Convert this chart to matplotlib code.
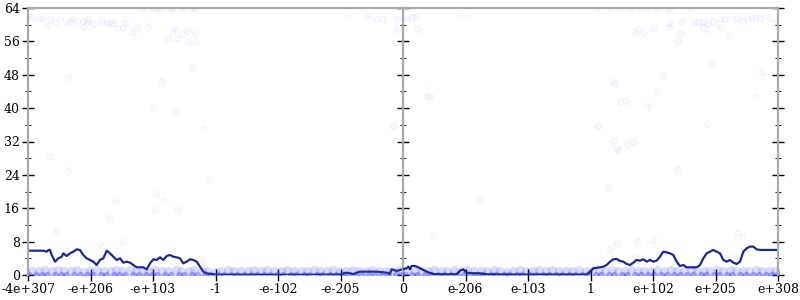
import matplotlib
matplotlib.use("Agg")
import matplotlib.pyplot as plt
from matplotlib.ticker import MultipleLocator

# ---------------- data (x in tick-slot units 0..12, y = bits of error) ----------------
left_labels = ['-4e+307', '-e+206', '-e+103', '-1', '-e-102', '-e-205', '0']
right_labels = ['e-206', 'e-103', '1', 'e+102', 'e+205', 'e+308']

line_x = [0.0, 0.245, 0.299, 0.325, 0.352, 0.379, 0.432, 0.485, 0.539, 0.565, 0.619, 0.672,
          0.725, 0.779, 0.832, 0.885, 0.939, 0.992, 1.045, 1.099, 1.152, 1.205, 1.259, 1.312,
          1.365, 1.419, 1.472, 1.525, 1.579, 1.632, 1.685, 1.739, 1.792, 1.845, 1.899, 1.952,
          2.005, 2.059, 2.112, 2.165, 2.219, 2.272, 2.325, 2.379, 2.432, 2.485, 2.539, 2.592,
          2.645, 2.699, 2.752, 2.805, 2.859, 2.965, 3.019, 3.5, 4.0, 4.5, 4.99, 5.1, 5.205,
          5.312, 5.579, 5.739, 5.792, 5.819, 5.899, 5.952, 6.059, 6.085, 6.112, 6.139, 6.192,
          6.245, 6.325, 6.405, 6.485, 6.592, 6.859, 6.912, 6.965, 7.019, 7.125, 7.232, 7.339,
          7.8, 8.4, 8.939, 8.992, 9.045, 9.152, 9.205, 9.259, 9.312, 9.365, 9.419, 9.472,
          9.525, 9.579, 9.632, 9.685, 9.739, 9.792, 9.845, 9.899, 9.952, 10.005, 10.059,
          10.112, 10.165, 10.219, 10.272, 10.325, 10.379, 10.432, 10.485, 10.539, 10.699,
          10.752, 10.805, 10.859, 10.912, 10.965, 11.019, 11.072, 11.125, 11.179, 11.232,
          11.285, 11.339, 11.392, 11.445, 11.499, 11.552, 11.605, 11.659, 11.712, 12.0]
line_y = [5.83, 5.83, 5.59, 5.99, 5.99, 4.79, 3.20, 4.0, 4.39, 5.19, 4.55, 5.19,
          5.59, 6.15, 5.99, 4.79, 4.0, 3.60, 3.20, 2.40, 3.60, 4.0, 5.83, 5.19,
          4.39, 3.60, 4.0, 2.96, 3.20, 2.96, 2.40, 1.84, 1.84, 1.84, 1.36, 2.80,
          3.76, 3.60, 4.23, 3.60, 4.55, 4.79, 4.39, 4.23, 4.0, 2.80, 3.20, 3.76,
          3.60, 3.20, 2.0, 0.80, 0.40, 0.16, 0.08, 0.06, 0.06, 0.06, 0.1, 0.56, 0.24,
          0.8, 0.8, 0.56, 0.24, 1.36, 0.96, 1.2, 1.6, 2.0, 1.36, 2.16, 2.16,
          1.84, 1.2, 0.64, 0.24, 0.16, 0.16, 1.04, 1.36, 0.56, 0.4, 0.4, 0.16,
          0.1, 0.1, 0.1, 0.8, 1.6, 1.84, 2.0, 2.4, 3.2, 3.76, 3.84, 3.36,
          3.2, 2.64, 2.4, 2.96, 3.6, 3.44, 3.76, 3.2, 3.6, 3.2, 3.44,
          4.4, 5.6, 5.43, 5.19, 4.79, 3.2, 2.16, 2.4, 1.84, 1.84,
          2.4, 4.0, 5.19, 5.59, 6.0, 5.59, 5.19, 3.6, 3.2, 3.6,
          2.96, 2.64, 3.2, 5.59, 6.4, 6.8, 6.8, 6.15, 6.0, 6.0]

band0_x = [0.02, 0.13, 0.22, 0.31, 0.43, 0.52, 0.61, 0.74, 0.83, 0.95, 1.04, 1.16, 1.25,
           1.37, 1.46, 1.55, 1.68, 1.77, 1.89, 1.98, 2.07, 2.19, 2.28, 2.41, 2.50, 2.62,
           2.71, 2.83, 2.92, 3.04, 3.13, 3.25, 3.34, 3.46, 3.57, 3.66, 3.78, 3.87, 3.99,
           4.08, 4.20, 4.29, 4.41, 4.50, 4.62, 4.71, 4.83, 4.92, 5.04, 5.13, 5.25, 5.34,
           5.46, 5.55, 5.67, 5.76, 5.88, 5.97, 6.03, 6.14, 6.23, 6.35, 6.44, 6.56, 6.65,
           6.77, 6.86, 6.98, 7.07, 7.19, 7.28, 7.40, 7.49, 7.61, 7.70, 7.82, 7.91, 8.03,
           8.12, 8.24, 8.33, 8.45, 8.54, 8.66, 8.75, 8.87, 8.96, 9.08, 9.17, 9.29, 9.38,
           9.50, 9.59, 9.71, 9.80, 9.92, 10.01, 10.13, 10.22, 10.34, 10.43, 10.55, 10.64,
           10.76, 10.85, 10.97, 11.06, 11.18, 11.27, 11.39, 11.48, 11.60, 11.69, 11.81,
           11.90, 11.98]

band1_x = [0.07, 0.18, 0.27, 0.38, 0.48, 0.57, 0.69, 0.79, 0.90, 0.99,
           1.11, 1.21, 1.32, 1.41, 1.51, 1.63, 1.73, 1.84, 1.93, 2.03,
           2.14, 2.24, 2.36, 2.45, 2.57, 2.66, 2.78, 2.87, 2.99, 3.09,
           3.20, 3.30, 3.41, 3.52, 3.62, 3.73, 3.82, 3.94, 4.04, 4.15,
           4.25, 4.36, 4.46, 4.57, 4.67, 4.78, 4.88, 4.99, 5.09, 5.20,
           5.30, 5.41, 5.51, 5.62, 5.72, 5.83, 5.93, 6.08, 6.19, 6.29,
           6.40, 6.50, 6.61, 6.71, 6.82, 6.92, 7.03, 7.13, 7.24, 7.34,
           7.45, 7.55, 7.66, 7.76, 7.87, 7.97, 8.08, 8.18, 8.29, 8.39,
           8.50, 8.60, 8.71, 8.81, 8.92, 9.02, 9.13, 9.23, 9.34, 9.44,
           9.55, 9.65, 9.76, 9.86, 9.97, 10.07, 10.18, 10.28, 10.39, 10.49,
           10.60, 10.70, 10.81, 10.91, 11.02, 11.12, 11.23, 11.33, 11.44, 11.54,
           11.65, 11.75, 11.86, 11.95]
band1_y = [1.0, 0.9, 1.1, 1.0, 1.2, 0.9, 1.0, 1.1, 0.8, 1.0,
           1.1, 1.0, 0.9, 1.2, 1.0, 1.1, 0.9, 1.0, 1.0, 1.1,
           0.9, 1.0, 1.2, 1.0, 0.9, 1.1, 1.0, 1.0, 0.8, 1.0,
           1.1, 1.0, 0.9, 1.0, 1.1, 1.0, 1.2, 0.9, 1.0, 1.1,
           1.0, 0.9, 1.0, 1.1, 1.0, 0.9, 1.2, 1.0, 1.0, 1.1,
           0.9, 1.0, 1.1, 1.0, 0.9, 1.0, 1.2, 1.1, 1.0, 0.9,
           1.0, 1.1, 1.0, 0.9, 1.2, 1.0, 1.1, 1.0, 0.9, 1.0,
           1.1, 1.0, 0.8, 1.0, 1.1, 0.9, 1.0, 1.2, 1.0, 1.1,
           0.9, 1.0, 1.0, 1.1, 0.9, 1.0, 1.2, 1.0, 1.1, 0.9,
           1.0, 1.1, 1.0, 0.9, 1.0, 1.2, 1.0, 1.1, 0.9, 1.0,
           1.1, 1.0, 0.9, 1.0, 1.2, 1.0, 1.1, 0.9, 1.0, 1.0,
           1.1, 0.9, 1.0, 1.0]

outlier_x = [0.059, 0.192, 0.245, 0.299, 0.352, 0.432, 0.512, 0.619, 0.672, 0.725, 0.779,
             0.885, 0.939, 0.965, 0.875, 1.045, 1.179, 1.259, 1.312, 1.365, 1.419, 1.525,
             1.552, 1.685, 1.765, 1.925, 1.819, 2.005, 2.059, 2.112, 2.272, 2.325, 2.432,
             2.485, 2.619, 2.672, 2.245, 2.299, 2.352, 2.379, 2.459, 2.539, 2.565, 2.672,
             2.672, 2.619, 0.645, 2.139, 2.005, 2.352, 2.795, 5.125, 5.419, 5.579, 5.685,
             5.899, 5.925, 5.845, 0.352, 0.645, 0.459, 1.392, 1.312, 1.152, 1.525, 2.048,
             2.176, 2.032, 2.379, 2.896, 2.795,
             6.059, 6.139, 6.208, 6.245, 6.912, 7.019, 6.379, 6.432, 9.099, 9.312, 9.472,
             9.632, 9.792, 9.899, 10.059, 10.219, 10.272, 10.592, 9.712, 9.765, 9.845,
             10.005, 10.261, 10.261, 10.432, 10.395, 10.459, 10.672, 10.725, 10.805,
             10.885, 10.965, 11.072, 11.152, 11.339, 11.445, 11.499, 11.579, 11.632,
             11.712, 11.872, 11.979, 10.805, 10.859, 11.083, 11.221, 10.939, 11.749,
             10.165, 9.365, 9.392, 10.059, 9.472, 9.563, 9.909, 11.648, 9.125, 10.859,
             9.355, 9.429, 9.579, 9.685, 9.445, 10.379, 9.285, 7.232, 6.485, 9.739,
             10.005, 9.419, 9.312, 11.365, 11.419, 9.712, 11.205]
outlier_y = [61.8, 61.5, 61.5, 59.9, 61.3, 60.7, 61.3, 60.5, 61.0, 61.3, 61.0,
             61.0, 60.7, 61.3, 59.4, 60.2, 61.0, 60.3, 60.5, 60.5, 59.1, 59.1,
             60.5, 58.3, 59.4, 59.4, 63.9, 63.9, 63.9, 63.9, 63.9, 63.9, 63.9,
             63.9, 63.9, 63.9, 56.7, 58.6, 58.9, 56.7, 57.8, 58.6, 55.9, 57.8,
             55.9, 49.9, 47.5, 46.6, 40.0, 39.1, 35.0, 61.8, 62.3, 61.4, 61.4,
             61.4, 58.9, 35.7, 28.5, 24.9, 10.5, 18.0, 13.7, 7.4, 8.0, 19.4,
             17.8, 15.6, 15.7, 22.8, 3.6,
             61.5, 61.8, 62.1, 58.9, 62.3, 61.8, 43.0, 43.0, 63.9, 63.9, 63.9,
             63.9, 63.9, 63.9, 63.9, 63.9, 63.9, 63.9, 58.2, 58.9, 57.9,
             59.1, 60.2, 59.4, 58.1, 56.2, 60.7, 60.7, 60.7, 60.7,
             60.2, 61.0, 61.3, 61.3, 61.5, 61.0, 61.5, 61.5, 61.8,
             61.5, 61.5, 60.7, 59.4, 57.9, 59.4, 57.5, 50.5, 48.7,
             47.7, 46.3, 45.7, 43.9, 41.5, 41.8, 40.5, 42.7, 35.7, 36.2,
             32.2, 30.4, 31.4, 31.9, 30.0, 25.3, 20.8, 17.8, 9.3, 8.2,
             8.4, 7.7, 6.2, 10.1, 9.0, 4.6, 4.2]

y_max = 64
# --------------------------------------------------------------------------------------

plt.rcParams['font.family'] = ['DejaVu Serif']
fig = plt.figure(figsize=(8, 3), dpi=100)
L, B, W, H = 28 / 800, 1 - 275 / 300, 750 / 800, 267 / 300
axL = fig.add_axes([L, B, W / 2, H])
axR = fig.add_axes([L + W / 2, B, W / 2, H])

spine_col = '#aaaaaa'
line_col = '#20288c'
n1 = min(len(band1_x), len(band1_y))

for ax, lo, hi in ((axL, 0, 6), (axR, 6, 12)):
    ax.set_xlim(lo, hi)
    ax.set_ylim(0, y_max)
    ax.patch.set_alpha(0)
    ax.plot(outlier_x, outlier_y, 'o', ms=4.2, mfc=(0.2, 0.2, 1, 0.025),
            mec=(0.2, 0.2, 1, 0.06), mew=0.7, linestyle='none', clip_on=True)
    ax.plot(band1_x[:n1], band1_y[:n1], 'o', ms=6.5, mfc=(0.35, 0.35, 1, 0.11),
            mec='none', linestyle='none', clip_on=False)
    ax.plot(band0_x, [0] * len(band0_x), 'o', ms=5, mfc=(0.15, 0.15, 0.95, 0.38),
            mec='none', linestyle='none', clip_on=True)
    ax.plot(line_x, line_y, '-', color=line_col, lw=1.6, solid_joinstyle='round')
    for s in ('left', 'right', 'top'):
        ax.spines[s].set_color(spine_col)
        ax.spines[s].set_linewidth(1.6)
    ax.spines['bottom'].set_visible(False)
    ax.yaxis.set_major_locator(MultipleLocator(8))
    ax.yaxis.set_minor_locator(MultipleLocator(4))
    ax.tick_params(axis='both', which='major', direction='inout', length=9, width=1,
                   color='black', labelsize=9, pad=1.5)
    ax.tick_params(axis='y', which='minor', direction='inout', length=5, width=0.8,
                   color='#333333')

axL.set_xticks(range(0, 7))
axL.set_xticklabels(left_labels)
axL.tick_params(axis='y', which='both', left=True, right=True, labelleft=True,
                labelright=False)
axL.set_yticks(range(0, y_max + 1, 8))

axR.spines['left'].set_visible(False)
axR.set_xticks(range(7, 13))
axR.set_xticklabels(right_labels)
axR.tick_params(axis='y', which='both', left=False, right=True, labelleft=False,
                labelright=False)

fig.savefig('out.png', dpi=100)
